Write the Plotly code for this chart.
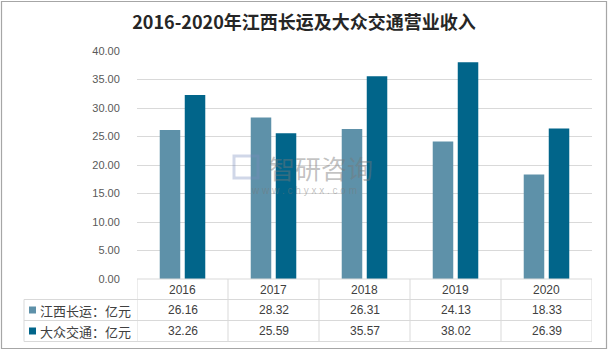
import plotly.graph_objects as go

years = ["2016", "2017", "2018", "2019", "2020"]
series_names = ["江西长运：亿元", "大众交通：亿元"]
jxcy = [26.16, 28.32, 26.31, 24.13, 18.33]
dzjt = [32.26, 25.59, 35.57, 38.02, 26.39]
colors = ["#5E91A9", "#01658A"]
title = "2016-2020年江西长运及大众交通营业收入"

W, H = 608, 351
L, R, T, B = 137, 592, 51, 279  # plot area in pixels


def px(x):
    return (x - L) / (R - L)


def py(y):
    return (B - y) / (B - T)


fig = go.Figure()
for name, vals, c in zip(series_names, [jxcy, dzjt], colors):
    fig.add_trace(go.Bar(x=years, y=vals, name=name, marker=dict(color=c, line=dict(width=0)),
                         showlegend=False, hoverinfo="x+y"))

grid = "#D9D9D9"
shapes = []
# outer border
shapes.append(dict(type="rect", xref="paper", yref="paper", x0=px(1.5), x1=px(606.5),
                   y0=py(348.5), y1=py(1.5), line=dict(color="#A6A6A6", width=1.2)))
# table horizontal lines
for yy, xs in [(279, 137), (299.5, 24), (320.5, 24), (341.5, 24)]:
    shapes.append(dict(type="line", xref="paper", yref="paper", x0=px(xs), x1=1,
                       y0=py(yy), y1=py(yy), line=dict(color=grid, width=1)))
# legend column left edge
shapes.append(dict(type="line", xref="paper", yref="paper", x0=px(24), x1=px(24),
                   y0=py(299.5), y1=py(341.5), line=dict(color=grid, width=1)))
# category separators
for i in range(len(years) + 1):
    shapes.append(dict(type="line", xref="x", yref="paper", x0=i - 0.5, x1=i - 0.5,
                       y0=py(279), y1=py(341.5), line=dict(color=grid, width=1)))
# legend squares
for yy, c in [(310, colors[0]), (331, colors[1])]:
    shapes.append(dict(type="rect", xref="paper", yref="paper", x0=px(29), x1=px(36),
                       y0=py(yy + 3.5), y1=py(yy - 3.5), line=dict(width=0), fillcolor=c))
# watermark logo block
shapes.append(dict(type="rect", xref="paper", yref="paper", x0=px(234), x1=px(258),
                   y0=py(178), y1=py(156), line=dict(color="rgba(120,140,190,0.35)", width=3),
                   fillcolor="rgba(0,0,0,0)"))

ann = []
tfont = dict(family="Liberation Sans, Noto Sans CJK SC", size=12, color="#404040")
for i, yr in enumerate(years):
    for yy, txt in [(289.5, yr), (310, f"{jxcy[i]:.2f}"), (331, f"{dzjt[i]:.2f}")]:
        ann.append(dict(x=i, xref="x", y=py(yy), yref="paper", text=txt, showarrow=False,
                        xanchor="center", yanchor="middle", font=tfont))
for yy, nm in [(310, series_names[0]), (331, series_names[1])]:
    ann.append(dict(x=px(38), xref="paper", y=py(yy), yref="paper", text=nm, showarrow=False,
                    xanchor="left", yanchor="middle",
                    font=dict(family="Noto Sans CJK SC, sans-serif", size=13, color="#404040")))
# watermark
ann.append(dict(x=px(321), xref="paper", y=py(167), yref="paper", text="智研咨询", showarrow=False,
                xanchor="center", yanchor="middle",
                font=dict(family="Noto Sans CJK SC, sans-serif", size=26, color="rgba(120,120,120,0.45)")))
ann.append(dict(x=px(304), xref="paper", y=py(190), yref="paper", text="w w w . c h y x x . c o m",
                showarrow=False, xanchor="center", yanchor="middle",
                font=dict(family="Liberation Sans", size=10, color="rgba(120,120,120,0.45)")))

fig.update_layout(
    width=W, height=H,
    margin=dict(l=L, r=W - R, t=T, b=H - B, pad=0),
    paper_bgcolor="white", plot_bgcolor="white",
    title=dict(text="<b>" + title + "</b>", x=0.5, xref="container", xanchor="center",
               y=1 - 23 / H, yref="container", yanchor="middle",
               font=dict(family="Noto Sans CJK SC, Noto Sans, sans-serif", size=18, color="#262626")),
    bargap=0.45, bargroupgap=0.18, barmode="group",
    xaxis=dict(type="category", range=[-0.5, 4.5], showticklabels=False, showgrid=False,
               zeroline=False, showline=False, fixedrange=True),
    yaxis=dict(range=[0, 40], dtick=5, tickformat=".2f", showgrid=True, gridcolor=grid, gridwidth=1,
               zeroline=False, showline=False, ticks="outside", ticklen=14, tickcolor="rgba(0,0,0,0)",
               tickfont=dict(family="Liberation Sans", size=11, color="#595959")),
    shapes=shapes, annotations=ann,
)
fig.write_html("out.html")
